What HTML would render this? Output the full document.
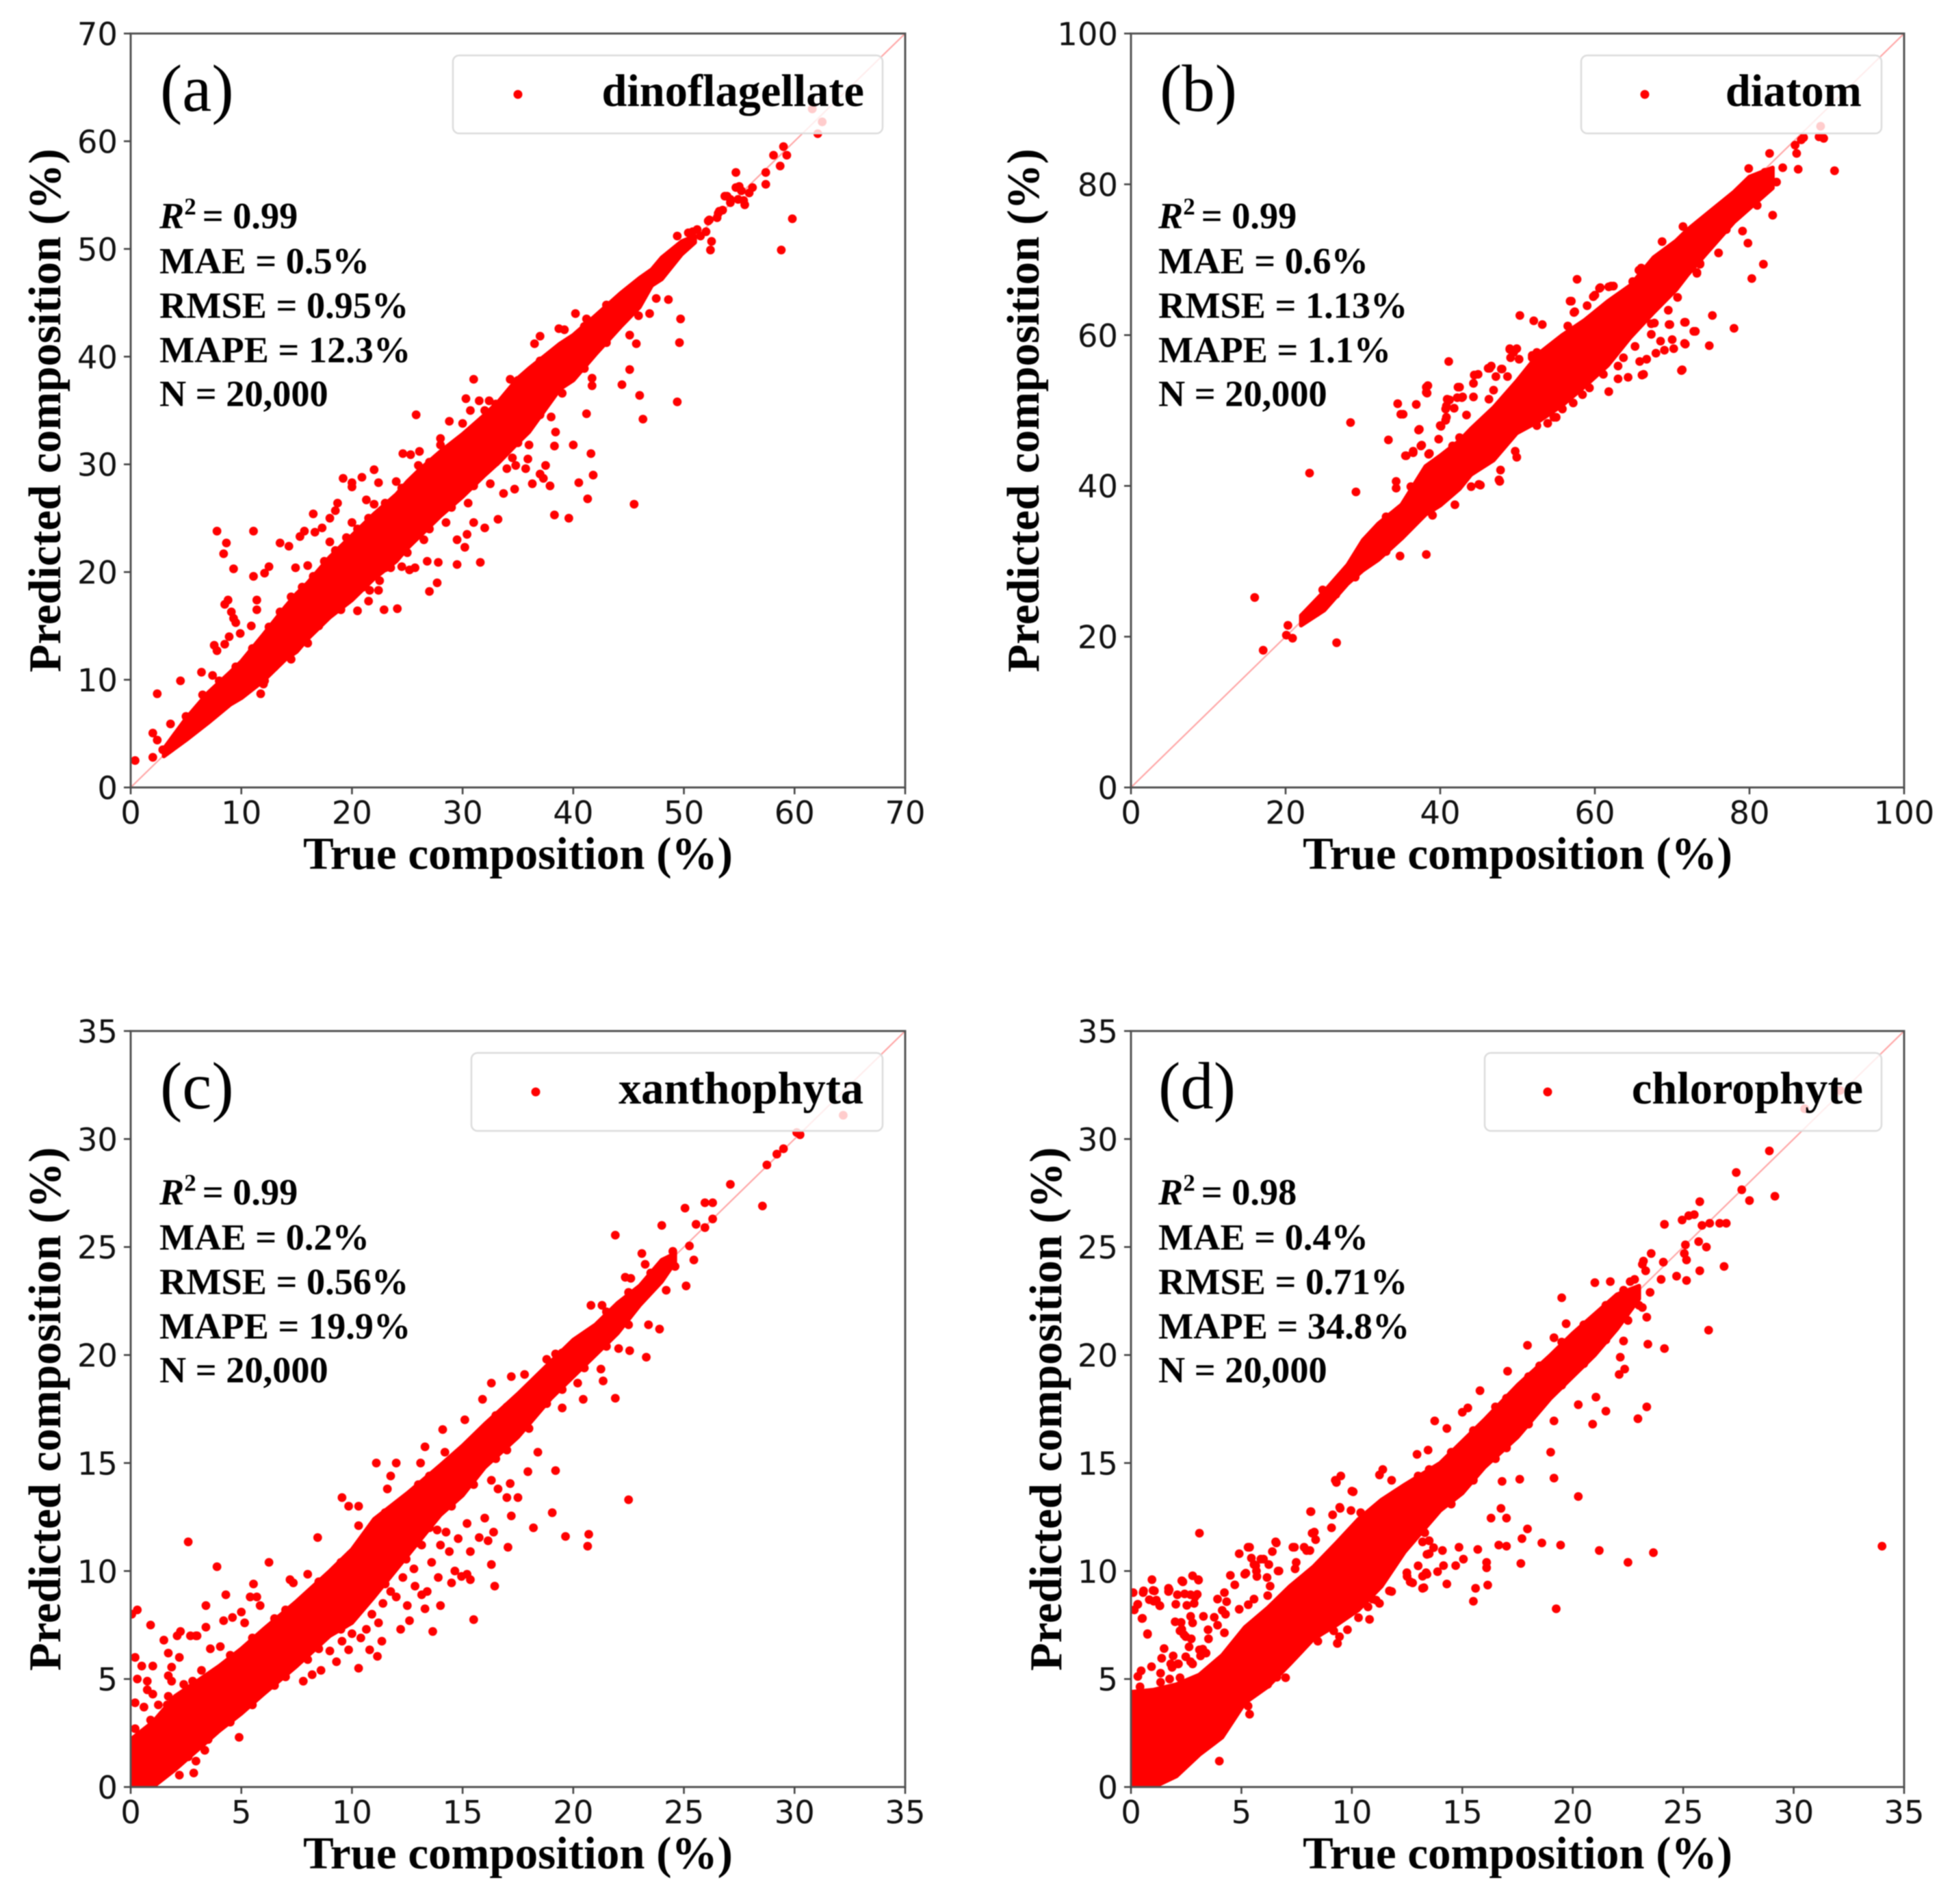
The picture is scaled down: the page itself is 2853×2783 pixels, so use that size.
<!DOCTYPE html>
<html lang="en">
<head>
<meta charset="utf-8">
<title>True versus predicted composition scatter plots</title>
<style>
html,body{margin:0;padding:0;background:#fff;width:2853px;height:2783px;overflow:hidden}
svg{display:block;filter:blur(0.9px)}
.tick{font-family:"DejaVu Sans",sans-serif;font-size:46.5px;fill:#111}
.title{font-family:"Liberation Serif",serif;font-weight:bold;font-size:67px;fill:#000}
.legend-text{font-family:"Liberation Serif",serif;font-weight:bold;font-size:66.4px;fill:#000}
.stat{font-family:"Liberation Serif",serif;font-weight:bold;font-size:54.3px;fill:#000}
.tag{font-family:"Liberation Serif",serif;font-size:97px;fill:#000}
</style>
</head>
<body>
<svg id="fig" xmlns="http://www.w3.org/2000/svg" width="2853" height="2783" viewBox="0 0 2853 2783"></svg>
<script>
// ---- panel (a) dinoflagellate ----
const aTicks = [0,10,20,30,40,50,60,70];
const aStats = ["= 0.99","MAE = 0.5%","RMSE = 0.95%","MAPE = 12.3%","N = 20,000"];
const aCoreTrue = [3,5,7,9,10,12,14,15,16,18,20,22,24,25,26,28,30,32,33.3,35,36,38.8,40,42,44.3,46,47.1,48,49.8,51];
const aCoreLow  = [2.9,4.4,6,7.7,8.3,9.9,11.9,12.6,13.8,15.8,17.4,19.4,21,22.2,23.2,25.2,27,29,30.2,32,33,37,37.8,40.2,42.8,44.6,46.6,47.2,49.5,50.6];
const aCoreHigh = [3.6,6.4,8.8,10.7,11.7,14.2,16.8,18,19,21.4,23.4,25.4,27.2,28.4,29.4,31.2,32.8,34.6,35.9,38,38.9,41.2,42,43.8,45.9,47.3,48.1,49.2,50.7,51.2];
const aPoints = [[0.4,2.5],[2,5.05],[2,2.8],[2.4,8.7],[2.4,4.4],[2.9,3.5],[3.6,5.9],[4.5,9.9],[6.4,10.7],[7.4,10.4],[7.8,23.8],[8.65,22.7],[8.4,21.7],[9.3,20.3],[7.55,13.2],[7.8,12.7],[8.5,13.3],[8.9,14],[8.8,17.4],[8.5,17],[9.1,16.3],[9.3,15.7],[9.5,15.3],[9.9,14.3],[11.1,23.8],[11.1,19.6],[11.4,17.4],[11.4,16.5],[10.9,15],[12.1,19.9],[12.5,20.5],[11.75,8.7],[12.1,9.9],[13.5,22.7],[14.3,22.4],[14.9,20.4],[15.3,23.3],[15.7,23.8],[16.5,25.4],[16.65,23.7],[17.3,24.1],[18,25],[18.5,25.7],[18.7,26.4],[19.2,28.7],[20,28.3],[20,27.9],[20.9,28.8],[22,29.5],[21.3,26.7],[22.4,28.3],[24.6,31],[25.8,34.6],[25.3,30.9],[26.1,31.2],[26,29.9],[28,32.4],[28.8,34],[30.3,36.1],[31,37.9],[30.7,35],[31.5,35.9],[32.4,35.9],[34.3,37.9],[36.5,41.2],[37,41.9],[38.7,42.6],[39.2,42.5],[40.2,44],[41.2,43.5],[22.9,16.5],[24.1,16.6],[21.5,17.3],[22.4,18.3],[21.6,18.3],[23.5,20.4],[25.2,20.2],[25.7,20.4],[27,18.2],[27.7,19],[26.8,21],[27.8,20.9],[29.5,20.7],[31.6,20.9],[30.2,22.3],[29.5,23],[31,24.6],[32,24.1],[33.2,24.9],[30.4,23.5],[34.7,27.7],[36.3,28.2],[33.7,27.3],[38.3,25.3],[39.6,25],[41.3,26.8],[45.5,26.3],[40.5,28.3],[41.8,29],[41.6,31],[40,31.8],[38.3,31.7],[38.4,33],[37,29.1],[37.5,29.9],[37.9,28],[37.3,28.7],[34,29.6],[34.8,29.9],[35.7,29.6],[35.9,30.5],[41.2,34.7],[41.7,37.3],[41.7,38],[44.4,37.4],[45.1,38.8],[45.7,41.2],[45.1,42],[46,36.4],[46.3,34.2],[49.4,35.8],[49.6,41.3],[49.7,43.5],[48.6,45.3],[47.5,45.4],[46.9,44],[45.9,43.8],[52.4,49.9],[52.5,50.7],[52.2,52.6],[53.1,53.3],[53.9,54.9],[54.7,57.1],[54.7,55.7],[55.2,55.4],[55.5,54.1],[56.2,55.7],[57.4,56],[57.4,57.1],[58.1,58.7],[58.7,57.7],[59,59.5],[59.3,58.7],[59.8,52.8],[58.8,49.9],[61.6,63],[62.5,61.8],[62.1,60.7],[51.5,51.2],[52,51.6],[53,52.9],[53.5,53.6],[54.2,54.3],[54.9,54.6],[50.8,51.6],[53.7,54.9],[53.2,53.5],[52.3,52.7],[51.2,51.8],[50.4,51.5],[49.4,51.2],[54.2,54.6],[55,55.8],[55.9,55.2],[55.4,54.5],[5,6.6],[6.5,8.6],[8,9.9],[9.5,11.2],[11,12.9],[12.5,14.9],[13.5,16.3],[14.5,17.7],[15.5,18.6],[16.5,19.6],[17.5,21],[18.5,22],[19.5,23.2],[20.5,24],[21.5,25],[23,26.4],[24.5,27.8],[27,30.2],[29,31.6],[31,33.3],[33,35.6],[35,37.8],[37,39.6],[39,41],[41,42.8],[43,44.8],[12,9.6],[13,11.2],[14.5,11.9],[16,13.4],[17,15],[19,16.5],[21,18.6],[23,20.4],[25,21.8],[27,24],[29,26],[31,28],[33,30.2],[35,32],[37,34.6],[39,36.6],[41,38.9],[43,41.3],[16,20.6],[18,22.8],[20,24.6],[22,26.3],[24,28.4],[28,31.8],[30,33.8],[32,35],[20.5,16.4],[22.5,19.2],[24.5,20.5],[26.5,23],[28.5,24.6],[30.5,26.4],[32.5,28.2],[34.5,30.6],[36,31.8],[38,34.4]];

// ---- panel (b) diatom ----
const bTicks = [0,20,40,60,80,100];
const bStats = ["= 0.99","MAE = 0.6%","RMSE = 1.13%","MAPE = 1.1%","N = 20,000"];
const bCoreTrue = [22,25,28,30,32,35,38.1,40,42.5,44,46.9,49.9,52.8,55.8,58.7,61.7,64.6,67.6,70.5,72,75,78,80,83];
const bCoreLow  = [21.5,23.5,27,28.8,30.2,33,36.2,37.4,39.6,41.5,43.4,47,48.6,50.7,53.2,56,59.7,63,66,68,71.5,75,76.8,79.5];
const bCoreHigh = [22.8,26,29.5,32.8,35,37.5,42.6,44,46,47.6,50.4,53.9,57.6,60,62,64.5,66.6,70.3,72.5,74,76.5,79,81,82.2];
const bPoints = [[16,25.2],[17.1,18.2],[20.3,21.5],[20.1,20.2],[20.9,19.8],[23.1,41.7],[26.6,19.2],[28.4,48.4],[29.1,39.2],[33.3,46.1],[34.5,50.9],[34.9,49.5],[36.9,50.8],[37.2,47.4],[38.2,53.1],[38.3,52.3],[37.5,45.3],[36.5,44.6],[35.5,44],[38.5,44.2],[41.1,56.5],[40,48],[40.8,49.1],[40.8,50.6],[41.2,51.4],[42.3,53.1],[42.8,51.7],[44.4,54.7],[46.4,55.6],[47.9,55.5],[49,58.1],[49.5,57.7],[50.3,62.6],[52.1,61.9],[53.2,61.4],[51.9,57],[56.8,64.5],[57.3,63],[57.7,67.4],[59.8,65.1],[60.6,66.2],[61.8,66.4],[62.4,66.5],[65.7,68.6],[68.7,72.4],[71.4,74.4],[38.2,30.9],[34.8,30.7],[34.3,39.7],[34.3,40.6],[36.3,39.8],[47.6,40.8],[45.2,40.1],[54.7,49.1],[61.8,52.5],[66.1,54.7],[71.2,55.3],[71.6,61.7],[71.6,58.9],[72.8,60.5],[74.8,58.6],[75.2,62.6],[78,60.9],[69.7,61.4],[67.3,61.5],[73.6,69.4],[76,70.9],[73.2,68.3],[79.1,73.8],[79.8,72.2],[81.8,69.4],[80.3,67.5],[83,75.9],[91,81.8],[86.3,82],[82.6,84.1],[84.3,82.2],[79.9,82.1],[83.5,80.3],[85.9,85.2],[86.1,84.1],[86.7,85.9],[87,86.2],[89,86.3],[89.6,86.1],[89.2,87.7],[24,23.2],[24.8,26.2],[26.5,25.6],[28,28.6],[29,27.9],[31,33],[33,35.9],[36,38.5],[74,75.2],[76,76.9],[81,81],[82,81.6],[33,31.3],[77,74],[81,77.2],[56.96,64.5],[57.4,63.1],[59,63.9],[60,65.3],[60.7,66.3],[62.1,66.5],[56.5,61.2],[38.4,53.3],[38.2,52.4],[35.2,49.5],[37.3,47.5],[39.8,46.2],[40.1,47.9],[40.7,48.7],[40.9,51.5],[40.7,50.2],[41.8,50.3],[42.5,53.1],[42.2,51.7],[42.9,51.8],[44.3,53.6],[44.9,54.8],[46.2,55.6],[46.6,55.9],[48,55.5],[49,58.2],[49.9,58.2],[49.1,57],[50.2,56.8],[47.2,54.5],[48.7,54.5],[44.3,51.8],[46.9,52.7],[46.3,51.5],[43.4,49.4],[51.9,57.3],[52.5,57.7],[37.6,45.4],[38.6,44.3],[36.5,44.4],[35.6,44],[41.6,45.3],[42.5,46.4],[36.2,39.9],[47.7,40.6],[47.8,42.1],[49.7,44.6],[49.9,43.8],[45,40.2],[44,39.9],[41.9,37.5],[39,36.1],[52.5,48],[53.9,48.3],[55,49.1],[55.8,50.2],[57.2,51],[58.4,52.1],[59.3,53],[61.1,54.8],[63,54.2],[64.3,54.4],[66.3,54.8],[63,55.9],[63.7,57],[65.8,56.5],[66.7,56.8],[67.9,57.6],[69,58],[70.2,58.2],[70,59.4],[71.3,55.4],[71.7,58.8],[73,60.5],[71.7,61.7],[69.6,61.4],[67.3,60.1],[68.5,59.2],[65.2,58.5],[67.7,61.6],[69.5,63.3],[70.7,65],[73.2,68.2],[73.6,69.5],[66,68.9],[64.9,67.1]];

// ---- panel (c) xanthophyta ----
const cTicks = [0,5,10,15,20,25,30,35];
const cStats = ["= 0.99","MAE = 0.2%","RMSE = 0.56%","MAPE = 19.9%","N = 20,000"];
const cCoreTrue = [0,1,2,3,4,5,6,7.5,9,10,11,12.5,14,15,16,17.5,19,20,21,22,23,24,24.6];
const cCoreLow  = [0,0,0.8,1.7,2.6,3.4,4.3,5.6,7,7.6,8.8,10.7,12.6,13.5,14.8,16.2,18,19,20,21,22.3,23.4,24.3];
const cCoreHigh = [2.2,3,4.2,4.9,5.6,6.4,7.3,8.6,10,11,12.4,13.6,14.9,15.8,16.8,18.2,19.7,20.7,21.4,22.4,23.2,24.4,24.7];
const cPoints = [[0.05,8],[0.3,8.2],[0.9,7.5],[2.6,11.35],[3.9,10.2],[6.25,10.4],[4.3,8.9],[3.4,8.4],[3.4,7.4],[1.5,6.8],[2.1,7],[2.25,7.2],[2.7,7],[3,7],[2.95,7],[1.7,6.2],[2.2,6],[1.85,5.55],[0.2,6],[0.5,5.6],[1,5.6],[0.3,5],[0.75,4.9],[0.75,4.5],[1,4.3],[0.2,3.9],[0.6,3.7],[0.9,3.1],[1.25,3.8],[1.65,3.8],[1.7,5.15],[1.85,4.9],[0.2,2.7],[1.7,4.2],[2.4,4.75],[2.8,4.9],[4.2,7.7],[4.6,7.85],[5,8.1],[3.6,6.4],[3.2,5.4],[4.05,6.5],[5.55,9.4],[5.4,8.8],[5.7,8.8],[5.85,8.4],[5.15,7.6],[7.2,9.6],[7.35,9.45],[8.45,11.55],[8,9.85],[9.55,13.4],[9.85,13],[10.3,13],[10.3,12.1],[10.4,11.35],[11.1,15],[12,15],[11.6,13.8],[11.75,14.4],[13.1,15],[13.3,15.75],[14.1,16.55],[14.2,15.5],[15.1,17],[15.9,17.95],[16.3,18.7],[17.2,19],[17.8,19.1],[18.8,19.8],[19.2,20.05],[21.9,25.55],[24,26],[25.05,26.8],[27.1,27.9],[25.95,27.05],[26.3,27.05],[25.55,26.05],[25.95,25.9],[26.3,26.3],[28.55,26.9],[28.75,28.8],[29.2,29.3],[29.5,29.55],[30.1,30.3],[30.25,30.2],[32.2,31.1],[23.1,24.7],[23.25,24.2],[25.1,23.2],[25.45,24.4],[25.25,25.05],[22.6,23.55],[22.35,23.6],[21.3,22.3],[20.8,22.3],[4.9,2.3],[2.95,1.2],[2.85,0.65],[2.2,0.55],[3.35,1.7],[10.3,5.5],[9.3,5.8],[7.8,4.9],[8.6,5.4],[10.8,6.35],[11.15,6.05],[9.85,6.35],[9.55,6.75],[10.65,7.3],[11.35,6.75],[12.2,7.3],[13.65,7.2],[12.6,7.7],[13.3,8.25],[14,8.4],[15.5,7.75],[16.45,9.3],[15.35,9.6],[14.65,10],[14.95,9.75],[15.2,9.85],[12,8.8],[12.85,9.3],[13.15,8.9],[13.4,9.05],[11.75,9.05],[11.5,9.8],[12,10.25],[12.45,10.55],[13.15,11.2],[14,11.2],[13.85,11.9],[14.25,11.8],[14.5,9.45],[15.35,10.9],[15.75,11.55],[16.15,11.4],[16.4,11.8],[16,12.45],[16.3,10.3],[17.05,11.1],[17.2,12.55],[18.2,12],[17.95,14.6],[17.15,14.05],[16.3,14.2],[17,13.4],[16.6,13.8],[17.5,13.4],[18.4,15.5],[19.05,12.7],[19.65,11.6],[19.2,14.65],[20.7,11.7],[20.65,11.15],[22.5,13.3],[20.45,17.95],[21.9,18],[21.35,18.8],[21.25,19.35],[23.3,19.9],[22.55,20.2],[23.9,21.2],[23.4,21.4],[22.05,20.3],[18.8,17.75],[19.5,17.55],[20.2,18.7],[3.5,5.1],[4.5,6.1],[5.5,6.9],[6.5,7.8],[7,8.2],[8,8.9],[8.5,9.5],[9.5,10.4],[10.5,11.4],[11.5,12.7],[12,13],[13,14],[13.5,14.4],[14.5,15.1],[15.5,16.1],[16.5,17.2],[17,17.6],[18,18.4],[19.5,20.1],[21.5,22],[22.5,22.9],[23.5,23.8],[24.5,24.8],[1,0.3],[1.7,0.8],[2.6,1.4],[3.5,2.2],[4.5,3],[5.5,3.8],[6.5,4.7],[7,5.1],[8,5.9],[8.5,6.4],[9.5,7.3],[10.5,8.4],[11.5,9.4],[13,11.3],[13.5,12],[14.5,13],[15.5,14],[16.5,15.2],[17,15.6],[18,16.6],[19.5,18.4],[20.5,19.4],[21.5,20.4],[22.5,21.4],[24.2,23],[24.6,24.1],[10.9,8],[11.4,8.5],[11.2,7.6],[12.3,9.7],[12.8,10.1],[13.6,10.4],[14.4,10.9],[14.8,11.5],[15.2,12.2],[12.5,8.4],[13.9,9.7],[10,7.1],[10.4,6.9],[9,6.3],[8.2,5.2]];

// ---- panel (d) chlorophyte ----
const dTicks = [0,5,10,15,20,25,30,35];
const dStats = ["= 0.98","MAE = 0.4%","RMSE = 0.71%","MAPE = 34.8%","N = 20,000"];
const dCoreTrue = [0,1.03,2.06,3.1,4.13,5.16,6.2,7.2,8.26,9.3,10.3,11.35,12.4,14,15,16,17.5,19,20,21,22,23];
const dCoreLow  = [0,0,0.5,1.5,2.3,3.9,4.65,5.7,6.85,7.5,8.2,9.3,10.9,12.8,13.6,14.8,16.2,18,19,20,21.2,22.6];
const dCoreHigh = [4.4,4.5,4.75,5.2,6.1,7.4,8.3,9.3,10.2,11.3,12.4,13.3,14,15,16,17,18.6,20,21,21.9,22.8,23.2];
const dPoints = [[0.1,9],[0.55,9],[0.95,9.6],[1,9.1],[0.15,8.2],[0.3,8.45],[0.5,7.8],[0.75,7.1],[1.15,8.65],[1.3,8.4],[1.7,9.05],[1.7,9.2],[2.3,9.55],[3.05,9.6],[3.1,11.75],[2.7,8.9],[2.9,8.8],[2.3,7.3],[2,7.65],[2.4,7.05],[1.8,5.7],[2.15,5.7],[2.7,5.8],[3.1,6.35],[3.4,6.2],[4.9,10.8],[5.3,11.1],[5.45,10.6],[5.15,9.85],[5.65,10.25],[6,10.55],[6.55,11.35],[6.4,10.9],[6.7,10],[5.7,9.75],[7.4,11.1],[7.95,10.95],[8.15,12.75],[8.2,11.75],[9.25,14.2],[9.5,14.4],[9.45,12.95],[10,13.7],[10.4,12.7],[11.25,14.45],[11.4,14.7],[11.8,14.2],[12.95,15.4],[13.45,15.6],[13.75,16.95],[14.3,16.6],[15,17.35],[15.25,17.55],[15.8,18.35],[17.05,19.25],[17.95,20.45],[19.15,20.8],[19.7,21.45],[19.5,22.65],[21,23.35],[21.7,23.4],[22.6,23.4],[23.2,24.35],[23.55,24.7],[23.15,24.2],[24.15,26.05],[24.95,26.25],[25.25,26.45],[25.5,26.5],[25.75,27.1],[25.85,26],[26.2,26.1],[26.65,26.1],[26.95,26.1],[25.1,25.1],[25.05,24.7],[25.15,24.4],[25.7,25.25],[26.05,25],[25.75,23.9],[26.85,24.1],[25.15,23.45],[24.7,23.65],[24,23.5],[24.1,24.3],[26.15,21.15],[24.15,20.3],[23.4,20.5],[27.4,28.45],[27.65,27.65],[28,27.15],[28.9,29.45],[29.15,27.35],[30.5,31.4],[32.1,32.25],[34,11.15],[4,1.2],[6.3,5.15],[9.35,6.65],[11.1,8.65],[11.8,9.05],[12.5,9.75],[13.2,9.2],[13.4,9.85],[12.75,9.45],[14.3,9.4],[14.15,10.25],[14.1,10.95],[13.2,11.35],[13.5,10.8],[14.7,10.25],[15.05,10.55],[14.85,11.1],[15.5,8.6],[15.6,9.2],[16.15,9.35],[16.1,10.15],[16.1,10.4],[15.7,11],[16.3,12.45],[16.75,12.9],[17,12.45],[16.65,11.2],[17,11.15],[17.65,10.35],[17.7,11.5],[17.95,11.95],[18.6,11.3],[19.45,11.2],[19.25,8.25],[21.2,10.95],[22.5,10.4],[23.65,10.85],[20.25,13.45],[19.15,14.3],[19,15.5],[17.6,14.25],[16.8,14.15],[19.15,16.95],[20.9,16.8],[21.5,17.4],[22.95,17.05],[23.35,17.6],[20.25,17.7],[21.05,18.05],[22.1,19.1],[22.35,19.35],[22.15,19.9],[22.3,20.65],[23.35,21.75],[23.15,22.2],[13,14.4],[13.5,14.7],[14.5,15.5],[15.5,16.5],[16.5,17.6],[17,18],[18,19],[18.5,19.5],[19.5,20.6],[20.5,21.4],[21.5,22.3],[22.3,23],[22.8,23.5],[23.3,23.9],[14.5,13.1],[15.5,14.2],[16.5,15.2],[17,15.7],[18,16.8],[18.5,17.6],[19.5,18.6],[20.5,19.6],[21.5,20.7],[22.5,21.6],[23,22.3],[23.5,22.9],[10.06,13.67],[9.3,14.1],[8.13,12.75],[9.47,12.9],[9.96,12.8],[9.13,12.6],[9.08,12],[8.3,11.8],[8.36,11.45],[5.37,11.1],[6.58,11.3],[7.33,11.1],[7.84,11.1],[8.1,10.95],[5.88,10.55],[5.57,10.3],[6.24,10.3],[6.66,10],[5.68,10],[5.2,9.9],[7.48,10.4],[7.43,10.1],[4.5,9.8],[4.7,9.36],[6.16,9.7],[6.3,9.3],[0.57,9.08],[1.06,9.08],[1.73,9.13],[2.35,9.5],[2.79,9.78],[3.06,9.58],[2.1,8.9],[2.43,8.94],[3,8.92],[0.83,8.67],[1.03,8.6],[1.31,8.39],[0.31,8.46],[2.03,8.46],[2.53,8.41],[2.86,8.5],[3.92,8.7],[4.23,9],[4.33,8.58],[4.13,8.18],[3.77,7.86],[4.28,8],[3.28,7.9],[2.7,7.9],[2.79,7.6],[2.27,7.62],[3.92,7.49],[0.52,7.81],[0.75,7.07],[3.49,7.28],[3.51,6.86],[4.23,7.14],[2.22,7.23],[2.48,6.96],[2.73,6.86],[2.63,6.49],[1.5,6.41],[1.39,5.96],[1.91,6.07],[2.48,6.03],[3.25,6.38],[3.15,6.07],[2.12,5.7],[1.86,5.54],[0.93,5.57],[0.46,5.38],[0.31,5.12],[0.41,4.64],[1.34,5.27],[1.34,4.85],[1.75,5],[2.22,5.06],[2.58,4.59],[2.79,5.7],[5.57,8.7],[4.9,8.23],[5.31,8.44],[6.19,8.86],[5.37,3.37],[5.3,3.75],[6.6,5.08],[7,5.06],[6.19,4.75],[9.34,6.65],[9.44,6.96],[8.46,6.75],[9.18,7.23],[9.8,7.28],[10.3,7.84],[10.8,7.76],[10.73,8.34],[11.25,8.5],[10.94,8.7],[11.7,9.08],[13.26,9.23],[12.64,9.5],[13.2,9.76],[13.36,9.92],[12.49,9.92],[13.88,9.97],[13.4,10.77],[13,10.24],[13.7,11.08],[13.5,11.4],[13.3,11.77],[9.29,7.81]];

const NS = 'http://www.w3.org/2000/svg';
const fig = document.getElementById('fig');
function mk(tag, parent, attrs) {
  const n = document.createElementNS(NS, tag);
  for (const k in attrs) n.setAttribute(k, attrs[k]);
  parent.appendChild(n);
  return n;
}

function drawPanel(cfg) {
  const xs = v => cfg.left + (v - cfg.min) / (cfg.max - cfg.min) * (cfg.right - cfg.left);
  const ys = v => cfg.bottom - (v - cfg.min) / (cfg.max - cfg.min) * (cfg.bottom - cfg.top);
  const g = mk('g', fig, {});
  
  

  const clip = mk('clipPath', g, {id: 'clip-' + cfg.id});
  mk('rect', clip, {x: cfg.left, y: cfg.top, width: cfg.right - cfg.left, height: cfg.bottom - cfg.top});
  const plot = mk('g', g, {'clip-path': 'url(#clip-' + cfg.id + ')'});
  
  

  const diag = mk('line', plot, {x1: xs(cfg.min), y1: ys(cfg.min), x2: xs(cfg.max), y2: ys(cfg.max), stroke: 'rgba(255,0,0,0.35)', 'stroke-width': 2.2});
  
  

  // dense core of overlapping points, read as an envelope
  const upper = cfg.coreTrue.map((v, i) => xs(v) + ',' + ys(cfg.coreHigh[i]));
  const lower = cfg.coreTrue.map((v, i) => xs(v) + ',' + ys(cfg.coreLow[i])).reverse();
  const core = mk('polygon', plot, {points: upper.concat(lower).join(' '), fill: '#ff0000', stroke: '#ff0000', 'stroke-width': 6, 'stroke-linejoin': 'round'});
  
  

  cfg.points.forEach(p => {
    const c = mk('circle', plot, {cx: xs(p[0]), cy: ys(p[1]), r: 6.4, fill: '#ff0000'});
    
    
  });

  // spines
  const frame = mk('rect', g, {x: cfg.left, y: cfg.top, width: cfg.right - cfg.left, height: cfg.bottom - cfg.top, fill: 'none', stroke: '#555', 'stroke-width': 3});
  
  

  // ticks and tick labels
  cfg.ticks.forEach(t => {
    const xt = mk('line', g, {x1: xs(t), x2: xs(t), y1: cfg.bottom, y2: cfg.bottom + 10, stroke: '#444', 'stroke-width': 2.6});
    
    
    const xl = mk('text', g, {x: xs(t), y: cfg.bottom + 53, 'text-anchor': 'middle', class: 'tick'});
    xl.textContent = t;
    
    
    const yt = mk('line', g, {x1: cfg.left - 10, x2: cfg.left, y1: ys(t), y2: ys(t), stroke: '#444', 'stroke-width': 2.6});
    
    
    const yl = mk('text', g, {x: cfg.left - 19, y: ys(t) + 17, 'text-anchor': 'end', class: 'tick'});
    yl.textContent = t;
    
    
  });

  // axis titles
  const xTitle = mk('text', g, {x: (cfg.left + cfg.right) / 2, y: cfg.bottom + 119, 'text-anchor': 'middle', class: 'title'});
  xTitle.textContent = 'True composition (%)';
  
  
  const yc = (cfg.top + cfg.bottom) / 2;
  const yTitle = mk('text', g, {x: cfg.yTitleX, y: yc, 'text-anchor': 'middle', class: 'title', transform: 'rotate(-90 ' + cfg.yTitleX + ' ' + yc + ')'});
  yTitle.textContent = 'Predicted composition (%)';
  
  

  // panel tag
  const tag = mk('text', g, {x: cfg.tagX, y: cfg.top + 113, class: 'tag'});
  tag.textContent = '(' + cfg.id + ')';
  
  

  // statistics block
  cfg.stats.forEach((s, i) => {
    const t = mk('text', g, {x: cfg.statX, y: cfg.top + cfg.statOffsets[i], class: 'stat'});
    
    
    if (i === 0) {
      const r = mk('tspan', t, {'font-style': 'italic'});
      r.textContent = 'R';
      const sup = mk('tspan', t, {dy: -20, 'font-size': 35});
      sup.textContent = '2';
      const rest = mk('tspan', t, {dy: 20, dx: 9});
      rest.textContent = s;
    } else {
      t.textContent = s;
    }
  });

  // legend
  const leg = mk('g', g, {});
  
  
  const box = mk('rect', leg, {x: cfg.legLeft, y: cfg.top + 32, width: cfg.legRight - cfg.legLeft, height: 114, rx: 9, ry: 9, fill: 'rgba(255,255,255,0.8)', stroke: '#dcdcdc', 'stroke-width': 2.5});
  
  
  const dot = mk('circle', leg, {cx: cfg.legDot, cy: cfg.top + 89, r: 6.5, fill: '#ff0000'});
  
  
  const lt = mk('text', leg, {x: cfg.legTextEnd, y: cfg.top + 106, 'text-anchor': 'end', class: 'legend-text'});
  lt.textContent = cfg.name;
  
  
}

const topStatOffsets = [284.5,350.5,415.5,480.5,544.5];
const bottomStatOffsets = [253.5,319.5,384.5,449.5,513.5];
drawPanel({id:'a', name:'dinoflagellate', min:0, max:70, left:191, right:1323, top:49, bottom:1151, ticks:aTicks, stats:aStats, statOffsets:topStatOffsets, points:aPoints, coreTrue:aCoreTrue, coreLow:aCoreLow, coreHigh:aCoreHigh, yTitleX:88, tagX:234, statX:233, legLeft:662, legRight:1290, legDot:757, legTextEnd:1263});
drawPanel({id:'b', name:'diatom', min:0, max:100, left:1653, right:2783, top:49, bottom:1151, ticks:bTicks, stats:bStats, statOffsets:topStatOffsets, points:bPoints, coreTrue:bCoreTrue, coreLow:bCoreLow, coreHigh:bCoreHigh, yTitleX:1518, tagX:1695, statX:1693, legLeft:2311, legRight:2750, legDot:2404, legTextEnd:2721});
drawPanel({id:'c', name:'xanthophyta', min:0, max:35, left:191, right:1323, top:1507, bottom:2612, ticks:cTicks, stats:cStats, statOffsets:bottomStatOffsets, points:cPoints, coreTrue:cCoreTrue, coreLow:cCoreLow, coreHigh:cCoreHigh, yTitleX:88, tagX:234, statX:233, legLeft:689, legRight:1290, legDot:783, legTextEnd:1262});
drawPanel({id:'d', name:'chlorophyte', min:0, max:35, left:1653, right:2783, top:1507, bottom:2612, ticks:dTicks, stats:dStats, statOffsets:bottomStatOffsets, points:dPoints, coreTrue:dCoreTrue, coreLow:dCoreLow, coreHigh:dCoreHigh, yTitleX:1551, tagX:1693, statX:1693, legLeft:2170, legRight:2750, legDot:2262, legTextEnd:2723});
</script>
</body>
</html>
